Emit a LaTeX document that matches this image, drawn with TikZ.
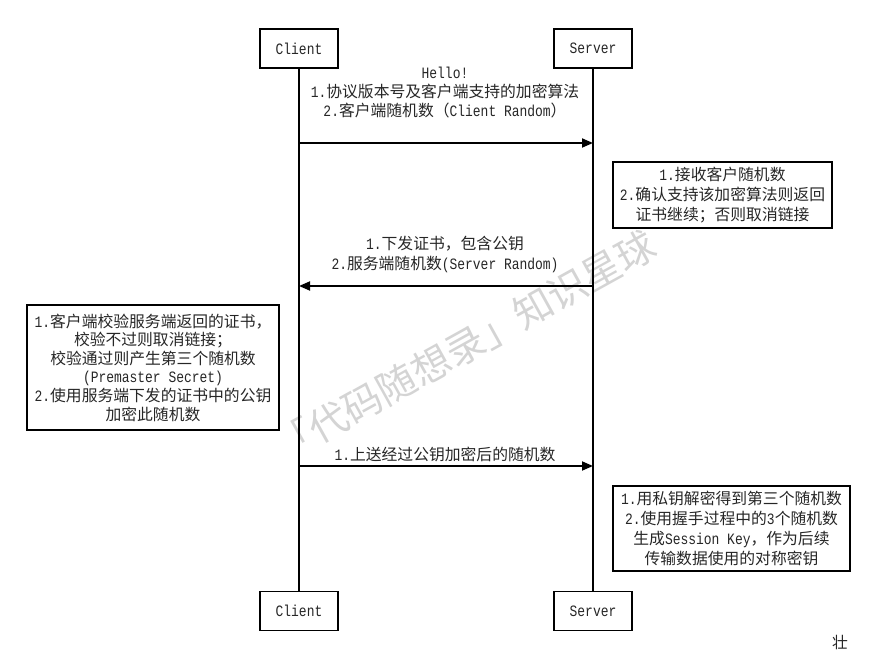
\documentclass[tikz,border=0pt]{standalone}
\usepackage{fontspec}
\setmainfont[FakeStretch=0.82]{Liberation Mono}
\newfontfamily\cjk{Noto Sans CJK SC}
\usetikzlibrary{arrows.meta}
\newcommand\zh[1]{{\cjk #1}}
\begin{document}
\begin{tikzpicture}[x=1pt,y=-1pt,
  font=\fontsize{15.8}{19}\selectfont,
  txt/.style={text=black!85},
  actor/.style={draw, line width=1.8pt, minimum width=78pt, minimum height=39pt, inner sep=0pt, txt},
  life/.style={line width=1.8pt},
  msg/.style={line width=1.8pt, -{Triangle[length=11pt,width=9pt]}},
  note/.style={draw, line width=1.8pt, align=center, inner sep=0pt, txt},
  label/.style={align=center, inner sep=0pt, txt},
]
\useasboundingbox (0,0) rectangle (887,660);

% watermark behind everything
\node[rotate=29, text=black!17, font=\cjk\fontsize{39}{39}\selectfont] (wm) at (465,346) {「代码随想录」知识星球};

% participants
\node[actor] (ctop) at (299,48.5) {Client};
\node[actor] (stop) at (593,48.5) {Server};
\node[actor] (cbot) at (299,611) {Client};
\node[actor] (sbot) at (593,611) {Server};

% lifelines
\draw[life] (ctop) -- (cbot);
\draw[life] (stop) -- (sbot);

% message anchors on the lifelines
\coordinate (m1c) at (299,143);
\coordinate (m1s) at (593,143);
\coordinate (m2c) at (299,286);
\coordinate (m2s) at (593,286);
\coordinate (m3c) at (299,466);
\coordinate (m3s) at (593,466);

% ClientHello
\draw[msg] (m1c) -- (m1s);
\node[label] (t1) at (445,93) {Hello!\\1.\zh{协议版本号及客户端支持的加密算法}\\2.\zh{客户端随机数（}Client Random\zh{）}};

% server check
\node[note, minimum width=219pt, minimum height=66pt, font=\fontsize{15.8}{20}\selectfont] (n1) at (722.5,195)
  {1.\zh{接收客户随机数}\\2.\zh{确认支持该加密算法则返回}\\\zh{证书继续；否则取消链接}};

% ServerHello + certificate
\draw[msg] (m2s) -- (m2c);
\node[label, font=\fontsize{15.8}{20.5}\selectfont] (t2) at (445,254.5) {1.\zh{下发证书，包含公钥}\\2.\zh{服务端随机数}(Server Random)};

% client check
\node[note, minimum width=252pt, minimum height=125pt, font=\fontsize{15.8}{18.6}\selectfont] (n2) at (153,367.5)
  {1.\zh{客户端校验服务端返回的证书，}\\\zh{校验不过则取消链接；}\\\zh{校验通过则产生第三个随机数}\\(Premaster Secret)\\2.\zh{使用服务端下发的证书中的公钥}\\\zh{加密此随机数}};

% key exchange
\draw[msg] (m3c) -- (m3s);
\node[label] (t3) at (445,454) {1.\zh{上送经过公钥加密后的随机数}};

% session key
\node[note, minimum width=237pt, minimum height=85pt, font=\fontsize{15.8}{20}\selectfont] (n3) at (731.5,528.5)
  {1.\zh{用私钥解密得到第三个随机数}\\2.\zh{使用握手过程中的}3\zh{个随机数}\\\zh{生成}Session Key\zh{，作为后续}\\\zh{传输数据使用的对称密钥}};

\node[txt, font=\cjk\fontsize{15.8}{16}\selectfont] (mark) at (840,643) {壮};
\end{tikzpicture}
\end{document}
